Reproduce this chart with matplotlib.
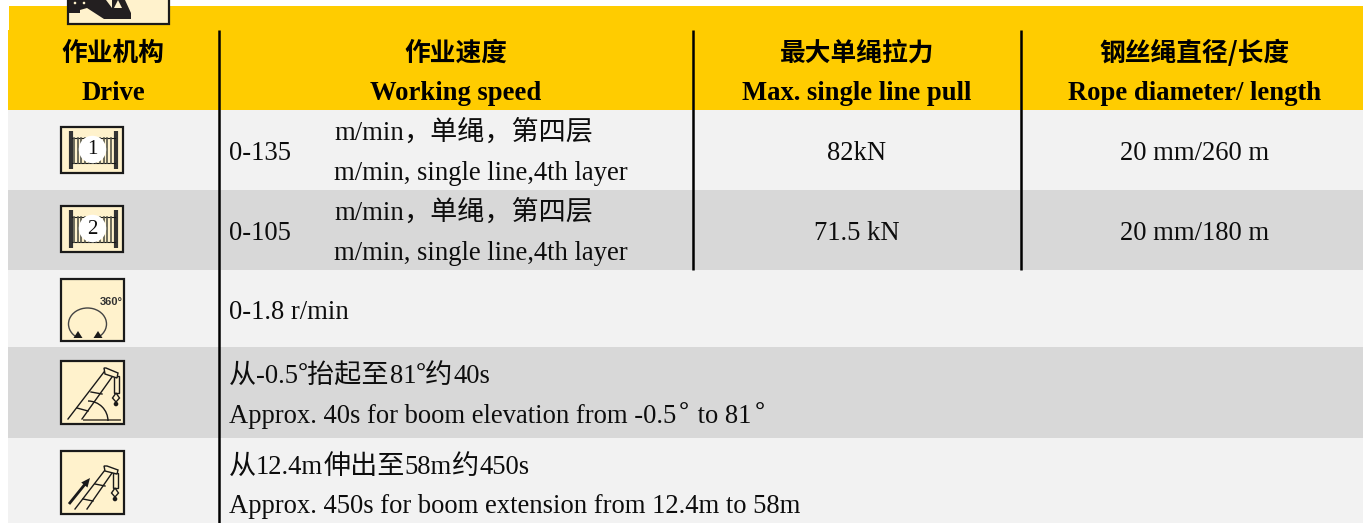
import matplotlib
matplotlib.use("Agg")
import matplotlib.pyplot as plt
from matplotlib.patches import Rectangle, Circle, Arc, FancyArrow, Polygon

# table content
headers_cn = ["作业机构", "作业速度", "最大单绳拉力", "钢丝绳直径/长度"]
headers_en = ["Drive", "Working speed", "Max. single line pull", "Rope diameter/ length"]
speeds = ["0-135", "0-105"]
speed_cn = "m/min，单绳，第四层"
speed_en = "m/min, single line,4th layer"
pulls = ["82kN", "71.5 kN"]
ropes = ["20 mm/260 m", "20 mm/180 m"]
slew = "0-1.8 r/min"
luff_cn = "从-0.5°抬起至81°约40s"
luff_en = "Approx. 40s for boom elevation from -0.5° to 81°"
tele_cn = "从12.4m伸出至58m约450s"
tele_en = "Approx. 450s for boom extension from 12.4m to 58m"

YELLOW = "#ffcc00"
LIGHT = "#f2f2f2"
DARK = "#d8d8d8"
CREAM = "#fff2cc"
INK = "#1a1a1a"
SERIF = "Liberation Serif"
CJK = "Noto Sans CJK SC"
TXT = "#0d0d0d"
SIZE = 19.15
CJK_SIZE = 19.5

fig = plt.figure(figsize=(13.63, 5.23), dpi=100)
ax = fig.add_axes([0, 0, 1, 1])
ax.set_xlim(0, 1363)
ax.set_ylim(523, 0)
ax.axis("off")
renderer = fig.canvas.get_renderer()


def mixed(x, y, s):
    # latin runs in the serif, everything else (and the degree sign) in the CJK font
    runs = []
    for ch in s:
        fam = CJK if (ord(ch) > 127) else SERIF
        if runs and runs[-1][1] == fam:
            runs[-1][0] += ch
        else:
            runs.append([ch, fam])
    for txt, fam in runs:
        pad = 2.5 if txt == "°" else 0
        x += pad
        t = ax.text(x, y, txt, family=fam, fontsize=CJK_SIZE if fam == CJK else SIZE,
                    ha="left", va="baseline", color=TXT)
        x += t.get_window_extent(renderer).width + pad


# bands
ax.add_patch(Rectangle((9, 6), 1354, 24, fc=YELLOW, ec="none"))
ax.add_patch(Rectangle((8, 30), 1355, 80, fc=YELLOW, ec="none"))
for y0, y1, c in [(110, 190, LIGHT), (190, 270, DARK), (270, 347, LIGHT),
                  (347, 438, DARK), (438, 523, LIGHT)]:
    ax.add_patch(Rectangle((8, y0), 1355, y1 - y0, fc=c, ec="none"))

# separators
ax.plot([219, 219], [30, 523], color="black", lw=1.8, solid_capstyle="butt")
ax.plot([693, 693], [30, 270], color="black", lw=1.8, solid_capstyle="butt")
ax.plot([1021, 1021], [30, 270], color="black", lw=1.8, solid_capstyle="butt")

# headers
hx = [113, 456, 857, 1195]
for x, cn, en in zip(hx, headers_cn, headers_en):
    ax.text(x, 53, cn, family=[CJK, SERIF], fontsize=18.5, fontweight="bold", ha="center", va="center", color="black")
    ax.text(x, 100, en, family=SERIF, fontsize=SIZE, fontweight="bold", ha="center", va="baseline", color="black")

# two rows with speed / pull / rope
for i, base in enumerate([160, 240]):
    ax.text(229, base, speeds[i], family=SERIF, fontsize=SIZE, va="baseline", color=TXT)
    mixed(334, base - 20, speed_cn)
    ax.text(334, base + 20, speed_en, family=SERIF, fontsize=SIZE, va="baseline", color=TXT)
    ax.text(857, base, pulls[i], family=SERIF, fontsize=SIZE, ha="center", va="baseline", color=TXT)
    ax.text(1195, base, ropes[i], family=SERIF, fontsize=SIZE, ha="center", va="baseline", color=TXT)

ax.text(229, 319, slew, family=SERIF, fontsize=SIZE, va="baseline", color=TXT)
mixed(229, 383, luff_cn)
mixed(229, 423, luff_en)
mixed(229, 474, tele_cn)
mixed(229, 513, tele_en)


def box(x0, y0, w, h):
    ax.add_patch(Rectangle((x0, y0), w, h, fc=CREAM, ec=INK, lw=1.6, zorder=3))


def drum(y0, label):
    box(61, y0, 62, 46)
    for x in (71, 116):
        ax.plot([x, x], [y0 + 4, y0 + 42], color="#333333", lw=3, zorder=4, solid_capstyle="butt")
    ax.plot([72, 115], [y0 + 11, y0 + 11], color=INK, lw=0.8, zorder=4)
    ax.plot([72, 115], [y0 + 36, y0 + 36], color=INK, lw=0.8, zorder=4)
    for k in range(11):
        xx = 74 + k * 3.7
        ax.plot([xx, xx], [y0 + 11, y0 + 36], color="#55554a", lw=1.2, zorder=4)
    ax.add_patch(Circle((92.5, y0 + 22.5), 13.7, fc="white", ec="none", zorder=5))
    ax.text(92.5, y0 + 23, label, family=SERIF, fontsize=15, ha="center", va="center", zorder=6, color=TXT)


def hook(x, y0, y1):
    # jib head sheave block with the rope and hook hanging below it
    ax.add_patch(Rectangle((x - 2.5, y0), 5, y1 - y0, fc=CREAM, ec=INK, lw=1, zorder=4))
    ax.add_patch(Polygon([[x, y1], [x + 3.5, y1 + 5], [x, y1 + 9], [x - 3.5, y1 + 5]], fc=CREAM, ec=INK, lw=1, zorder=4))
    ax.add_patch(Circle((x, y1 + 11), 2.3, fc=INK, ec="none", zorder=5))


# top clipped icon
ax.add_patch(Rectangle((68, -4), 101, 28, fc=CREAM, ec=INK, lw=1.6, zorder=3))
ax.add_patch(Polygon([[69, 0], [69, 13], [80, 13], [80, 10], [87, 8], [104, 19], [131, 19], [131, 13], [125, 0]],
                     fc="#231f20", ec="none", zorder=4))
ax.add_patch(Polygon([[106, 0], [112, 8], [112, 0]], fc=CREAM, ec="none", zorder=5))
ax.add_patch(Polygon([[114, 8], [118, 0], [122, 8]], fc=CREAM, ec="none", zorder=5))
for x in (75, 84):
    ax.add_patch(Circle((x, 3), 1.3, fc=CREAM, ec="none", zorder=5))

drum(127, "1")
drum(206, "2")

# slewing icon
box(61, 279, 63, 62)
ax.add_patch(Arc((87.5, 324), 38, 32, theta1=130, theta2=50, ec="#444444", lw=1, zorder=4))
for x in (78, 98):
    ax.add_patch(Polygon([[x - 4.5, 338], [x + 4.5, 338], [x, 331]], fc=INK, ec="none", zorder=4))
ax.text(100, 302, "360°", family="Liberation Sans", fontsize=8, fontweight="bold", ha="left", va="center",
        color="#333333", zorder=4)

# luffing icon
box(61, 361, 63, 63)
ax.plot([68, 104], [419, 372], color=INK, lw=1, zorder=4)
ax.plot([82, 112], [419, 377], color=INK, lw=1, zorder=4)
ax.plot([77, 88], [408, 411], color=INK, lw=1, zorder=4)
ax.plot([91, 102], [392, 394], color=INK, lw=1, zorder=4)
ax.add_patch(Polygon([[104, 368], [106, 368], [118, 373], [117, 378], [105, 374]], fc=CREAM, ec=INK, lw=1, zorder=5))
ax.plot([84, 120], [420, 420], color="#6b6350", lw=1.4, zorder=4)
ax.add_patch(Arc((88, 421), 40, 40, theta1=270, theta2=360, ec=INK, lw=1, zorder=4))
hook(116, 376, 393)

# telescoping icon
box(61, 451, 63, 63)
ax.plot([75, 105], [509, 470], color=INK, lw=1, zorder=4)
ax.plot([87, 112], [509, 473], color=INK, lw=1, zorder=4)
ax.plot([83, 93], [499, 501], color=INK, lw=1, zorder=4)
ax.plot([95, 105], [484, 486], color=INK, lw=1, zorder=4)
ax.add_patch(Polygon([[104, 466], [107, 466], [118, 470], [117, 474], [105, 471]], fc=CREAM, ec=INK, lw=1, zorder=5))
hook(115, 473, 488)
ax.add_patch(FancyArrow(69, 504, 21, -26, width=2.8, head_width=8, head_length=9,
                        length_includes_head=True, fc=INK, ec="none", zorder=4))

fig.savefig("out.png", dpi=100)
